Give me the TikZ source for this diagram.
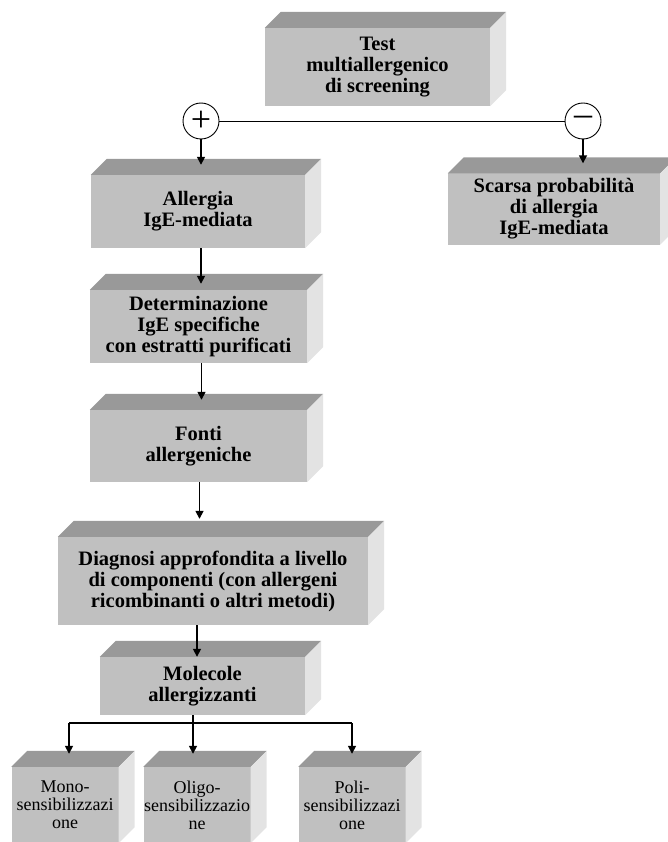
\documentclass[tikz,border=0pt]{standalone}
\usepackage{fontspec}
\setmainfont{Liberation Serif}
\usetikzlibrary{arrows.meta}
\definecolor{frontgray}{HTML}{C0C0C0}
\definecolor{topgray}{HTML}{999999}
\definecolor{sidegray}{HTML}{E3E3E3}
\tikzset{
  block/.style={fill=frontgray, inner sep=0pt, align=center,
    font=\fontsize{20.5}{21}\selectfont\bfseries},
  smallblock/.style={block, minimum width=107pt, minimum height=76pt,
    font=\fontsize{18}{18}\selectfont},
  sign/.style={circle, draw, line width=0.9pt, fill=white, minimum size=36pt,
    inner sep=0pt, font=\fontsize{36}{36}\selectfont},
  arr/.style={line width=1.6pt, -{Triangle[length=8pt,width=8pt]}},
}
\begin{document}
\begin{tikzpicture}[x=1pt, y=-1pt]
        \useasboundingbox (0,0) rectangle (668,842);
        % front faces
        \node[block, minimum width=225pt, minimum height=78pt] (test) at (377.5,67) {Test\\multiallergenico\\di screening};
        \node[block, minimum width=214pt, minimum height=73pt] (allergia) at (198,211.5) {Allergia\\IgE-mediata};
        \node[block, minimum width=212pt, minimum height=71pt] (scarsa) at (554,209) {Scarsa probabilità\\di allergia\\IgE-mediata};
        \node[block, minimum width=217pt, minimum height=73pt] (determ) at (198.5,326.5) {Determinazione\\IgE specifiche\\con estratti purificati};
        \node[block, minimum width=217pt, minimum height=72pt] (fonti) at (198.5,446) {Fonti\\allergeniche};
        \node[block, minimum width=310pt, minimum height=88pt] (diagnosi) at (213,581) {Diagnosi approfondita a livello\\di componenti (con allergeni\\ricombinanti o altri metodi)};
        \node[block, minimum width=205pt, minimum height=58pt] (molecole) at (202.5,686) {Molecole\\allergizzanti};
        \node[smallblock] (mono) at (65,805) {Mono-\\sensibilizzazi\\one};
        \node[smallblock] (oligo) at (197,805) {Oligo-\\sensibilizzazio\\ne};
        \node[smallblock] (poli) at (352,805) {Poli-\\sensibilizzazi\\one};
        % top and side faces
        \foreach \n in {test,allergia,scarsa,determ,fonti,diagnosi,molecole,mono,oligo,poli} {
            \fill[topgray] (\n.north west) -- ++(16,-16) -- ([shift={(16pt,16pt)}]\n.north east) -- (\n.north east) -- cycle;
            \fill[sidegray] (\n.north east) -- ++(16,-16) -- ([shift={(16pt,16pt)}]\n.south east) -- (\n.south east) -- cycle;
        }
        % result of the test
        \node[sign] (plus) at (201,121) {+};
        \node[sign] (minus) at (583,121) {–};
        \draw[line width=0.9pt] (plus) -- (minus);
        \draw[arr] (plus.south) -- ([yshift=10pt]plus.south |- allergia.north);
        \draw[arr] (minus.south) -- ([yshift=10pt]minus.south |- scarsa.north);
        % main chain
        \draw[arr] ([xshift=3pt]allergia.south) -- ([xshift=3pt,yshift=6pt]allergia.south |- determ.north);
        \draw[arr] ([xshift=3pt]determ.south) -- ([xshift=3pt,yshift=10pt]determ.south |- fonti.north);
        \draw[arr] ([xshift=1pt]fonti.south) -- ([xshift=1pt,yshift=18pt]fonti.south |- diagnosi.north);
        \draw[arr] ([xshift=-16pt]diagnosi.south) -- ([xshift=-16pt]diagnosi.south |- molecole.north);
        % split to the three groups
        \coordinate (split) at (193,723);
        \draw[line width=1.6pt] (split |- molecole.south) -- (split);
        \draw[line width=1.6pt] ([xshift=4pt]mono.north |- split) -- (poli.north |- split);
        \draw[arr] ([xshift=4pt]mono.north |- split) -- ([xshift=4pt,yshift=13pt]mono.north);
        \draw[arr] (split) -- ([xshift=-4pt,yshift=13pt]oligo.north);
        \draw[arr] (poli.north |- split) -- ([yshift=13pt]poli.north);
\end{tikzpicture}
\end{document}
